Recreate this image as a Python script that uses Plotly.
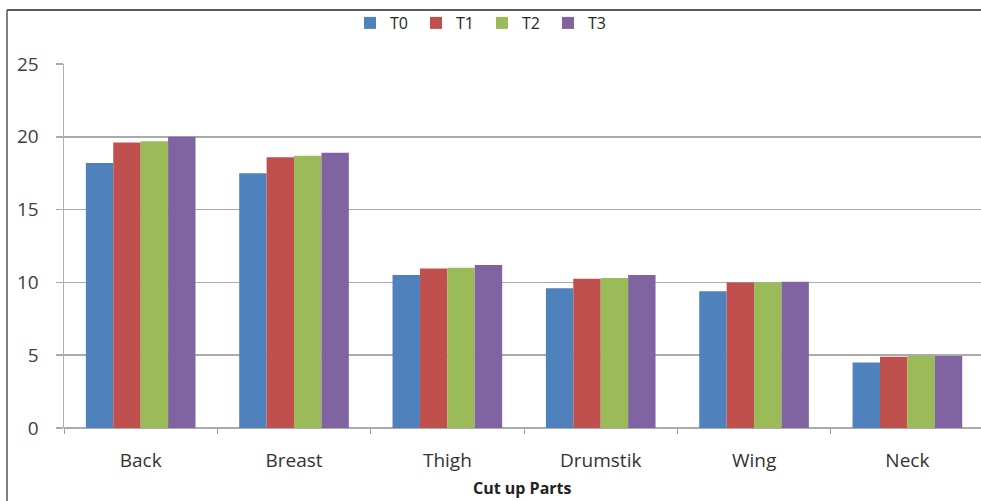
import plotly.graph_objects as go

categories = ["Back", "Breast", "Thigh", "Drumstik", "Wing", "Neck"]
t0 = [18.2, 17.5, 10.5, 9.6, 9.4, 4.5]
t1 = [19.6, 18.6, 10.95, 10.25, 10.0, 4.9]
t2 = [19.7, 18.7, 11.0, 10.3, 10.0, 4.95]
t3 = [20.0, 18.9, 11.2, 10.5, 10.05, 4.95]
series_names = ["T0", "T1", "T2", "T3"]
colors = ["#4F81BD", "#C0504D", "#9BBB59", "#8064A2"]
y_ticks = [0, 5, 10, 15, 20, 25]

font_family = "'Open Sans', Lato, sans-serif"

fig = go.Figure()
for name, vals, col in zip(series_names, [t0, t1, t2, t3], colors):
    fig.add_trace(go.Bar(x=categories, y=vals, name=name,
                         marker=dict(color=col, line=dict(width=0))))

W, H = 981, 501
L, R, T, B = 64, 0, 64, 73
pw = W - L - R
ph = H - T - B

fig.update_layout(
    width=W, height=H,
    margin=dict(l=L, r=R, t=T, b=B, autoexpand=False),
    paper_bgcolor="white", plot_bgcolor="white",
    barmode="group", bargap=0.285, bargroupgap=0,
    hovermode=False,
    font=dict(family=font_family, size=16, color="#404040"),
    legend=dict(orientation="h", x=(350 - L) / pw, xanchor="left",
                y=1 + (T - 23) / ph, yanchor="middle",
                font=dict(size=16, color="#262626"), traceorder="normal",
                entrywidth=21, entrywidthmode="pixels",
                bgcolor="rgba(0,0,0,0)"),
    showlegend=True,
)
fig.update_xaxes(
    range=[-0.5, 5.48], showgrid=False, showline=False,
    ticks="outside", tickson="boundaries", ticklen=5, tickcolor="#999999",
    tickfont=dict(size=19, color="#333333"), ticklabelstandoff=19,
    zeroline=False,
)
fig.update_yaxes(
    range=[0, 25], tickvals=y_ticks, showgrid=True, gridcolor="#ababab", gridwidth=1.5,
    showline=True, linecolor="#b0b0b0", linewidth=1.5,
    ticks="outside", ticklen=7, tickcolor="#aaaaaa", tickwidth=1.5,
    tickfont=dict(size=19, color="#404040"), ticklabelstandoff=13,
    zeroline=True, zerolinecolor="#ababab", zerolinewidth=1.5,
)
# x-axis title
fig.add_annotation(text="<b>Cut up Parts</b>", xref="paper", yref="paper",
                   x=(522 - L) / pw, y=-(488 - (H - B)) / ph, xanchor="center", yanchor="middle",
                   showarrow=False, font=dict(size=16, color="#222222"))
# outer chart frame: top and left edges (right and bottom are cropped off)
fx0 = (7 - L) / pw
fy1 = 1 + (T - 10) / ph
fig.add_shape(type="line", xref="paper", yref="paper", x0=fx0, x1=1.0, y0=fy1, y1=fy1,
              line=dict(color="#222222", width=1.5), layer="below")
fig.add_shape(type="line", xref="paper", yref="paper", x0=fx0, x1=fx0, y0=-B / ph, y1=fy1,
              line=dict(color="#555555", width=1.5), layer="below")

fig.write_html("out.html", config={"staticPlot": True},
               post_script="document.body.style.margin='0';document.body.style.overflow='hidden';")
